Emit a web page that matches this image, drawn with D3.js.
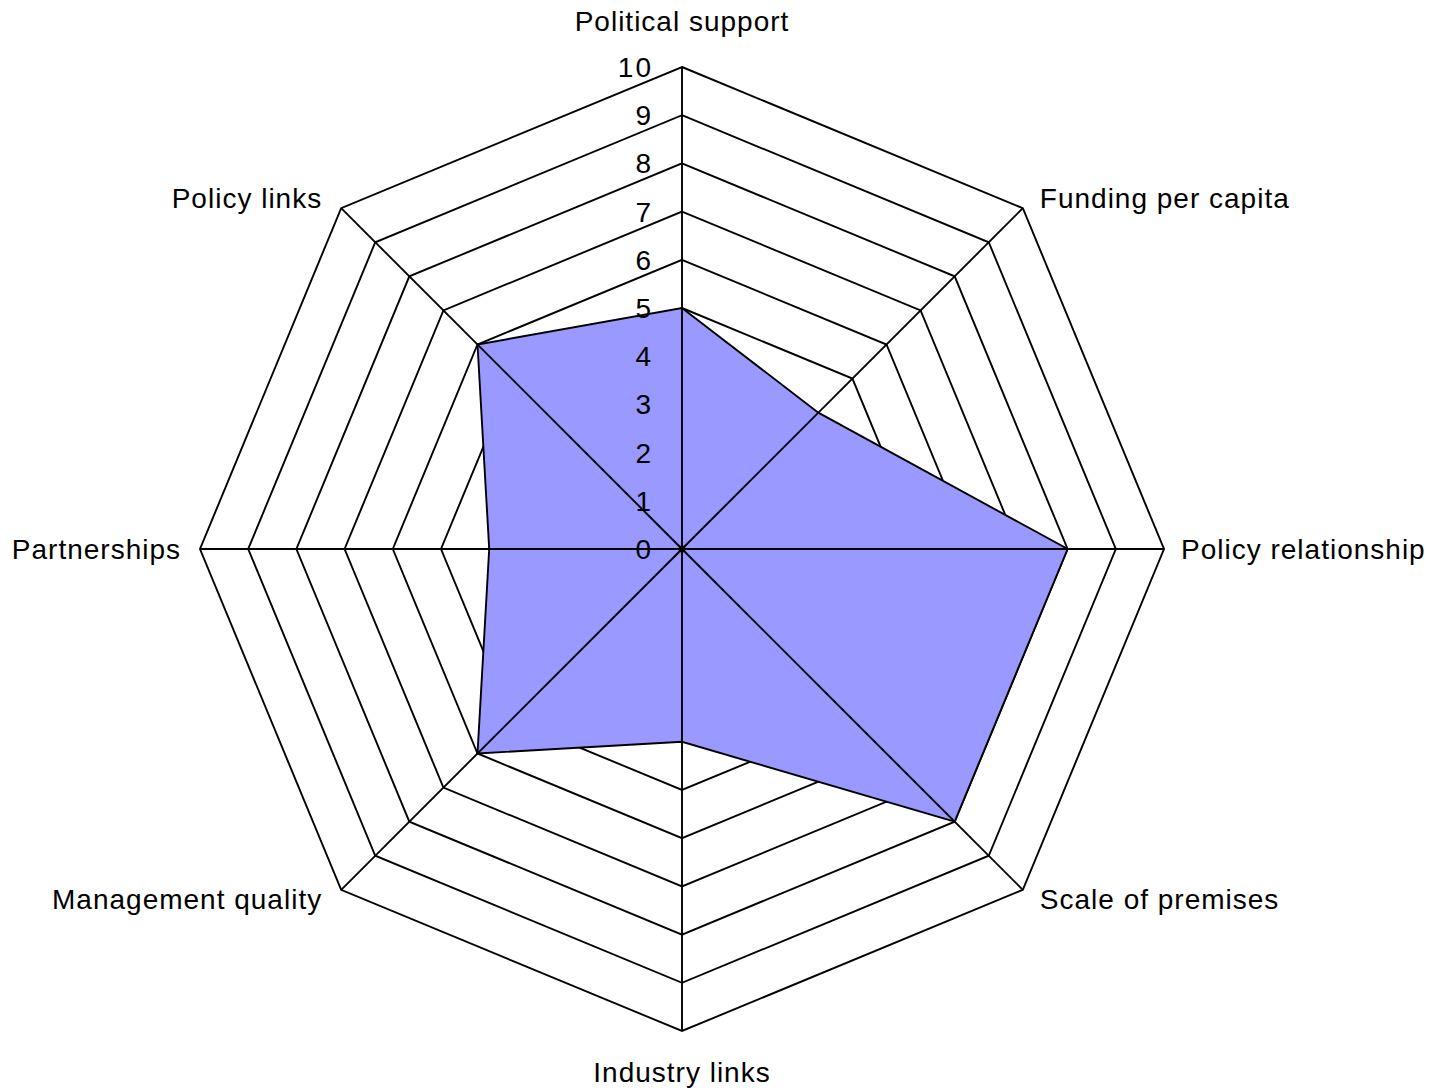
<!DOCTYPE html>
<html>
<head>
<meta charset="utf-8">
<script src="https://cdn.jsdelivr.net/npm/d3@7"></script>
<style>
  html, body { margin: 0; padding: 0; background: #fff; }
  svg { display: block; }
  text { font-family: "Liberation Sans", Arial, sans-serif; fill: #000; }
</style>
</head>
<body>
<svg id="chart" width="1429" height="1092"></svg>
<script>
// Radar axes (clockwise from the top)
const categories = [
  "Political support",
  "Funding per capita",
  "Policy relationship",
  "Scale of premises",
  "Industry links",
  "Management quality",
  "Partnerships",
  "Policy links"
];
// Scores for each axis
const scores = [5, 4, 8, 8, 4, 6, 4, 6];
// Scale tick labels
const tickLabels = [0, 1, 2, 3, 4, 5, 6, 7, 8, 9, 10];

const svg = d3.select("#chart");
const cx = 682, cy = 549, R = 482;

const r = d3.scaleLinear().domain([0, 10]).range([0, R]);
const angle = d3.scalePoint()
  .domain(categories)
  .range([0, 2 * Math.PI * (categories.length - 1) / categories.length]);

const pt = (cat, v) => {
  const a = angle(cat);
  return [cx + r(v) * Math.sin(a), cy - r(v) * Math.cos(a)];
};

const g = svg.append("g");

// Polygonal grid rings
const ringLine = d3.line();
g.selectAll("path.ring")
  .data(tickLabels.filter(t => t > 0))
  .join("path")
  .attr("class", "ring")
  .attr("d", t => ringLine(categories.map(c => pt(c, t))) + "Z")
  .attr("fill", "none")
  .attr("stroke", "#000")
  .attr("stroke-width", 1.9);

// Data area
g.append("path")
  .attr("d", ringLine(categories.map((c, i) => pt(c, scores[i]))) + "Z")
  .attr("fill", "#9999ff")
  .attr("stroke", "#000")
  .attr("stroke-width", 1.9);

// Spokes drawn over the area
g.selectAll("line.spoke")
  .data(categories)
  .join("line")
  .attr("class", "spoke")
  .attr("x1", cx).attr("y1", cy)
  .attr("x2", c => pt(c, 10)[0])
  .attr("y2", c => pt(c, 10)[1])
  .attr("stroke", "#000")
  .attr("stroke-width", 1.9);

g.append("circle").attr("cx", cx).attr("cy", cy).attr("r", 3.5).attr("fill", "#000");

// Value scale along the top axis
g.selectAll("text.tick")
  .data(tickLabels)
  .join("text")
  .attr("class", "tick")
  .attr("x", cx - 29)
  .attr("y", t => cy - r(t))
  .attr("dy", "0.36em")
  .attr("text-anchor", "end")
  .attr("font-size", 28)
  .attr("letter-spacing", 2)
  .text(t => t);

// Axis labels
g.selectAll("text.axis-label")
  .data(categories)
  .join("text")
  .attr("class", "axis-label")
  .each(function (c) {
    const a = angle(c);
    const [x, y] = pt(c, 10);
    const s = Math.sin(a), co = Math.cos(a);
    const t = d3.select(this);
    let anchor = "middle", dx = 0, dy = 0;
    if (s > 0.1) { anchor = "start"; dx = 17; }
    else if (s < -0.1) { anchor = "end"; dx = -19; }
    if (Math.abs(s) < 0.1) {
      dy = co > 0 ? -46 : 41;
    } else if (Math.abs(co) > 0.1) {
      dy = co > 0 ? -10 : 9;
    }
    t.attr("x", x + dx).attr("y", y + dy)
      .attr("dy", "0.36em")
      .attr("text-anchor", anchor);
  })
  .attr("font-size", 28)
  .attr("letter-spacing", 1)
  .text(c => c);
</script>
</body>
</html>
